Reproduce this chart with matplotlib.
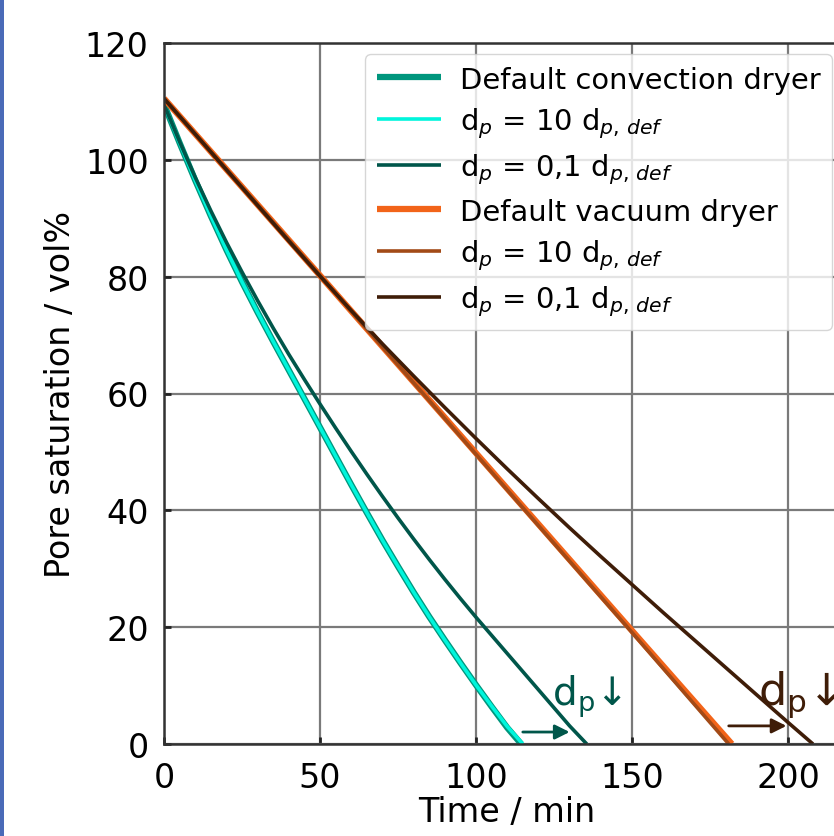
import matplotlib
matplotlib.use("Agg")
import matplotlib.pyplot as plt
from matplotlib.patches import Rectangle

# ── data ────────────────────────────────────────────────────────────
t_conv_def = [0, 5, 10, 15, 20, 25, 30, 35, 40, 45, 50, 55, 60, 65, 70,
              75, 80, 85, 90, 95, 100, 105, 110, 114.5]
s_conv_def = [109.5, 102.9, 96.5, 90.4, 84.6, 79.1, 73.9, 68.9, 64.0, 59.1,
              54.2, 49.3, 44.4, 39.6, 34.9, 30.4, 26.0, 21.8, 17.8, 13.9,
              10.1, 6.4, 2.8, 0]

t_conv_10 = [0, 5, 10, 15, 20, 25, 30, 35, 40, 45, 50, 55, 60, 65, 70,
             75, 80, 85, 90, 95, 100, 105, 110, 115]
s_conv_10 = [109.5, 102.9, 96.5, 90.4, 84.6, 79.1, 73.9, 68.9, 64.0, 59.1,
             54.2, 49.3, 44.4, 39.6, 34.9, 30.4, 26.0, 21.8, 17.8, 13.9,
             10.1, 6.5, 3.0, 0]

t_conv_01 = [0, 5, 10, 15, 20, 25, 30, 35, 40, 45, 50, 55, 60, 65, 70, 75,
             80, 85, 90, 95, 100, 105, 110, 115, 120, 125, 130, 135.5]
s_conv_01 = [109.5, 103.1, 97.0, 91.3, 85.9, 80.8, 75.9, 71.2, 66.7, 62.4,
             58.2, 54.1, 50.1, 46.2, 42.4, 38.7, 35.1, 31.6, 28.2, 24.9,
             21.7, 18.6, 15.5, 12.4, 9.3, 6.2, 3.1, 0]

t_vac_def = [0, 50, 100, 150, 182]
s_vac_def = [110.5, 80.2, 49.8, 19.4, 0]

t_vac_10 = [0, 50, 100, 150, 181]
s_vac_10 = [110.5, 80.2, 49.6, 19.1, 0]

t_vac_01 = [0, 10, 20, 30, 40, 50, 60, 70, 80, 90, 100, 110, 120, 130,
            140, 150, 160, 170, 180, 190, 200, 208]
s_vac_01 = [110.5, 104.4, 98.3, 92.2, 86.1, 80.1, 74.2, 68.5, 63.0, 57.6,
            52.3, 47.1, 42.0, 37.0, 32.1, 27.3, 22.5, 17.8, 13.1, 8.4,
            3.7, 0]

x_ticks = [0, 50, 100, 150, 200]
y_ticks = [0, 20, 40, 60, 80, 100, 120]

C_TEAL = "#00967d"
C_CYAN = "#00f5dc"
C_DTEAL = "#00564a"
C_ORANGE = "#f26419"
C_BROWN = "#a24a17"
C_DBROWN = "#3f1d08"

plt.rcParams["font.family"] = "DejaVu Sans"
plt.rcParams["mathtext.fontset"] = "dejavusans"

fig = plt.figure(figsize=(8.34, 8.37), dpi=100)
ax = fig.add_axes([164 / 834, 1 - 745 / 837, 686.4 / 834, 701 / 837])

ax.plot(t_conv_def, s_conv_def, color=C_TEAL, lw=4.5,
        label="Default convection dryer", solid_capstyle="butt")
ax.plot(t_conv_10, s_conv_10, color=C_CYAN, lw=2.6,
        label=r"d$_p$ = 10 d$_{p,\,def}$", solid_capstyle="butt")
ax.plot(t_conv_01, s_conv_01, color=C_DTEAL, lw=2.6,
        label=r"d$_p$ = 0,1 d$_{p,\,def}$", solid_capstyle="butt")
ax.plot(t_vac_def, s_vac_def, color=C_ORANGE, lw=4.5,
        label="Default vacuum dryer", solid_capstyle="butt")
ax.plot(t_vac_10, s_vac_10, color=C_BROWN, lw=2.6,
        label=r"d$_p$ = 10 d$_{p,\,def}$", solid_capstyle="butt")
ax.plot(t_vac_01, s_vac_01, color=C_DBROWN, lw=2.6,
        label=r"d$_p$ = 0,1 d$_{p,\,def}$", solid_capstyle="butt")

# ── annotations: particle size decrease ─────────────────────────────
ax.annotate("", xy=(130, 2.05), xytext=(115, 2.05),
            arrowprops=dict(arrowstyle="-|>", color=C_DTEAL, lw=2,
                            mutation_scale=22, shrinkA=0, shrinkB=0))
ax.text(124.5, 6.8, r"d$_\mathrm{p}$↓", fontsize=28, color=C_DTEAL)
ax.annotate("", xy=(199.5, 3.1), xytext=(181, 3.1),
            arrowprops=dict(arrowstyle="-|>", color=C_DBROWN, lw=2,
                            mutation_scale=22, shrinkA=0, shrinkB=0))
ax.text(190.5, 6.8, r"d$_\mathrm{p}$↓", fontsize=32, color=C_DBROWN)

ax.set_xlim(0, 220)
ax.set_ylim(0, 120)
ax.set_xticks(x_ticks)
ax.set_yticks(y_ticks)
ax.grid(True, color="#7a7a7a", lw=1.6)
ax.set_axisbelow(True)
ax.tick_params(direction="in", length=5, width=2, labelsize=24, color="#222222")
ax.tick_params(axis="x", pad=12)
ax.tick_params(axis="y", pad=11)
for sp in ax.spines.values():
    sp.set_linewidth(1.8)
    sp.set_color("#333333")

ax.set_xlabel("Time / min", fontsize=24, labelpad=1)
ax.set_ylabel("Pore saturation / vol%", fontsize=24, labelpad=6)

ax.legend(loc="upper right", bbox_to_anchor=(832 / 834, 1 - 55 / 837),
          bbox_transform=fig.transFigure, borderaxespad=0, fontsize=20.9,
          handlelength=2.2, handletextpad=0.65, labelspacing=0.40,
          framealpha=0.8)

# blue border stripe on the left edge of the screenshot
fig.add_artist(Rectangle((0, 0), 4 / 834, 1, transform=fig.transFigure,
                         color="#4a6bb8", lw=0))

fig.savefig("out.png", dpi=100)
